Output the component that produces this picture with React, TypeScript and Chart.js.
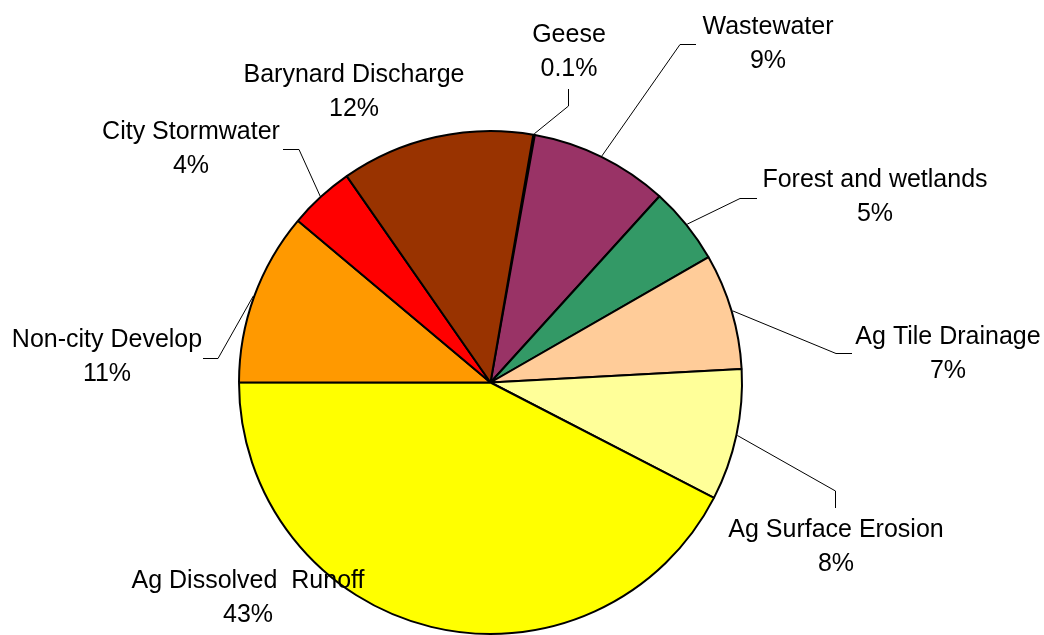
import React, { useEffect, useRef } from "react";
import { Chart, registerables } from "chart.js";

Chart.register(...registerables);

const categories = [
  "Geese",
  "Wastewater",
  "Forest and wetlands",
  "Ag Tile Drainage",
  "Ag Surface Erosion",
  "Ag Dissolved  Runoff",
  "Non-city Develop",
  "City Stormwater",
  "Barynard Discharge",
];
const shares = [0.1, 8.9, 4.97, 7.44, 8.44, 42.4, 11.1, 4.2, 12.4];
const percentLabels = ["0.1%", "9%", "5%", "7%", "8%", "43%", "11%", "4%", "12%"];
const sliceColors = [
  "#808080",
  "#993366",
  "#339966",
  "#FFCC99",
  "#FFFF99",
  "#FFFF00",
  "#FF9900",
  "#FF0000",
  "#993300",
];

// Label layout: text centre x, first-line baseline y, leader elbow and end point (null = no leader)
type Pt = [number, number];
const labelLayout: { x: number; y: number; elbow: Pt | null; end: Pt | null }[] = [
  { x: 569, y: 42, elbow: [568.5, 106], end: [568.5, 89] },
  { x: 768, y: 34, elbow: [680, 44.5], end: [696, 44.5] },
  { x: 875, y: 187, elbow: [740, 198.5], end: [757, 198.5] },
  { x: 948, y: 344, elbow: [836, 353.5], end: [852, 353.5] },
  { x: 836, y: 537, elbow: [835.5, 491], end: [835.5, 508] },
  { x: 248, y: 588, elbow: null, end: null },
  { x: 107, y: 347, elbow: [218, 358.5], end: [203, 358.5] },
  { x: 191, y: 139, elbow: [299, 149.5], end: [283, 149.5] },
  { x: 354, y: 82, elbow: null, end: null },
];
const lineGap = 34;
const labelFont = "25px 'Liberation Sans', Arial, sans-serif";

const labelPlugin = {
  id: "leaderLabels",
  afterDatasetsDraw(chart: any) {
    const ctx = chart.ctx as CanvasRenderingContext2D;
    const meta = chart.getDatasetMeta(0);
    ctx.save();
    ctx.strokeStyle = "#000";
    ctx.lineWidth = 1;
    meta.data.forEach((arc: any, i: number) => {
      const lay = labelLayout[i];
      if (!lay || !lay.elbow || !lay.end) return;
      const p = arc.getProps(["x", "y", "startAngle", "endAngle", "outerRadius"], true);
      const mid = (p.startAngle + p.endAngle) / 2;
      const r = p.outerRadius + 1;
      ctx.beginPath();
      ctx.moveTo(p.x + Math.cos(mid) * r, p.y + Math.sin(mid) * r);
      ctx.lineTo(lay.elbow[0], lay.elbow[1]);
      ctx.lineTo(lay.end[0], lay.end[1]);
      ctx.stroke();
    });
    ctx.font = labelFont;
    ctx.fillStyle = "#000";
    ctx.textAlign = "center";
    ctx.textBaseline = "alphabetic";
    categories.forEach((c, i) => {
      const lay = labelLayout[i];
      ctx.fillText(c, lay.x, lay.y);
      ctx.fillText(percentLabels[i], lay.x, lay.y + lineGap);
    });
    ctx.restore();
  },
};

export default function App() {
  const ref = useRef<HTMLCanvasElement | null>(null);
  useEffect(() => {
    if (!ref.current) return;
    const chart = new Chart(ref.current, {
      type: "pie",
      data: {
        labels: categories,
        datasets: [
          {
            data: shares,
            backgroundColor: sliceColors,
            borderColor: "#000",
            borderWidth: 2,
            hoverOffset: 0,
            offset: 0,
          },
        ],
      },
      options: {
        responsive: false,
        animation: false,
        devicePixelRatio: 1,
        rotation: 9.8,
        layout: { padding: { left: 238, right: 301, top: 130, bottom: 5 } },
        plugins: {
          legend: { display: false },
          tooltip: { enabled: false },
        },
        events: [],
      },
      plugins: [labelPlugin],
    });
    return () => chart.destroy();
  }, []);
  return (
    <div style={{ position: "fixed", left: 0, top: 0, width: 1044, height: 640, background: "#fff" }}>
      <canvas ref={ref} width={1044} height={640} style={{ display: "block" }} />
    </div>
  );
}
